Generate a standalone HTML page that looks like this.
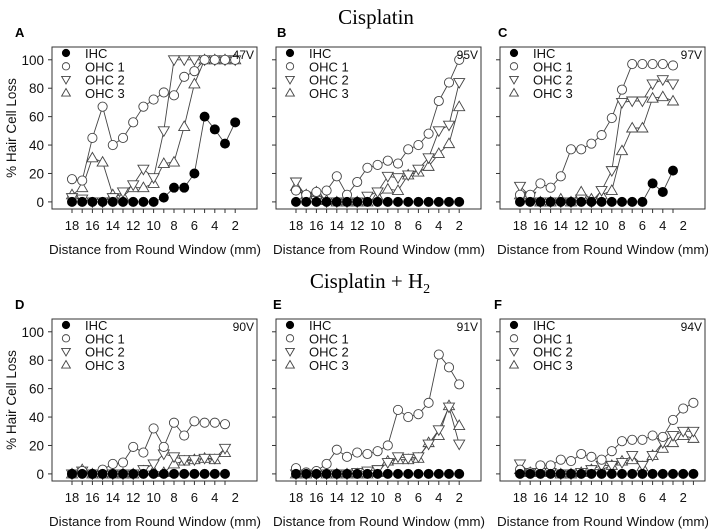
<!DOCTYPE html>
<html><head><meta charset="utf-8"><style>
body{margin:0;background:#fff;}
svg{display:block;font-family:"Liberation Sans",Arial,sans-serif;}
</style></head><body>
<svg id="chart" width="708" height="529"></svg>
<script>
const xs18to2 = [18,17,16,15,14,13,12,11,10,9,8,7,6,5,4,3,2];
const xs18to3 = [18,17,16,15,14,13,12,11,10,9,8,7,6,5,4,3];
const xs18to1 = [18,17,16,15,14,13,12,11,10,9,8,7,6,5,4,3,2,1];
const yTicks = [0,20,40,60,80,100];
const xTicks = [18,16,14,12,10,8,6,4,2];
const ihcA  = [0,0,0,0,0,0,0,0,0,3,10,10,20,60,51,41,56];
const ohc1A = [16,15,45,67,40,45,56,67,72,77,75,88,92,100,100,100,100];
const ohc2A = [3,2,0,0,3,7,12,23,17,50,100,100,100,100,100,100,100];
const ohc3A = [5,10,31,28,5,4,10,10,13,27,28,53,83,100,100,100,100];
const ihcB  = [0,0,0,0,0,0,0,0,0,0,0,0,0,0,0,0,0];
const ohc1B = [8,5,7,8,18,5,14,24,26,29,27,37,40,48,71,84,100];
const ohc2B = [14,4,1,0,0,0,0,4,7,18,17,19,23,31,50,54,84];
const ohc3B = [11,5,7,1,0,0,0,0,4,9,8,19,21,25,34,41,67];
const ihcC  = [0,0,0,0,0,0,0,0,0,0,0,0,0,13,7,22];
const ohc1C = [5,5,13,10,18,37,37,41,47,59,79,97,97,97,97,96];
const ohc2C = [11,4,0,0,0,0,2,0,8,22,70,71,71,83,86,83];
const ohc3C = [5,3,0,0,2,0,7,2,5,8,36,52,52,73,74,71];
const ihcD  = [0,0,0,0,0,0,0,0,0,0,0,0,0,0,0,0];
const ohc1D = [0,2,0,3,7,8,19,15,32,19,36,27,37,36,36,35];
const ohc2D = [0,2,0,0,0,0,0,3,7,14,12,10,10,11,11,18];
const ohc3D = [0,3,0,0,0,0,0,2,2,1,7,9,10,11,10,15];
const ihcE  = [0,0,0,0,0,0,0,0,0,0,0,0,0,0,0,0,0];
const ohc1E = [4,1,2,7,17,12,15,14,16,20,45,40,42,50,84,75,63];
const ohc2E = [0,0,0,0,0,0,1,2,3,8,12,11,12,21,31,47,21];
const ohc3E = [0,0,1,0,0,0,0,0,1,9,10,10,11,22,27,48,34];
const ihcF  = [0,0,0,0,0,0,0,0,0,0,0,0,0,0,0,0,0,0];
const ohc1F = [3,1,6,6,10,9,14,12,10,16,23,24,24,27,26,38,46,50];
const ohc2F = [7,1,1,1,0,0,1,3,6,6,8,13,6,13,22,27,30,30];
const ohc3F = [3,1,2,1,0,0,1,3,3,6,9,10,5,13,18,22,27,25];

const NS="http://www.w3.org/2000/svg";
const svg=document.getElementById('chart');
function mk(tag,attrs,parent){const e=document.createElementNS(NS,tag);for(const k in attrs)e.setAttribute(k,attrs[k]);(parent||svg).appendChild(e);return e;}
function txt(s,attrs,parent){const e=mk('text',attrs,parent);e.textContent=s;return e;}

const panels=[
 {id:'a',L:52,T:47,x:xs18to2,s:[ihcA,ohc1A,ohc2A,ohc3A],tag:'47V',labels:true,lx:15},
 {id:'b',L:276,T:47,x:xs18to2,s:[ihcB,ohc1B,ohc2B,ohc3B],tag:'95V',labels:false,lx:277},
 {id:'c',L:500,T:47,x:xs18to3,s:[ihcC,ohc1C,ohc2C,ohc3C],tag:'97V',labels:false,lx:498},
 {id:'d',L:52,T:319,x:xs18to3,s:[ihcD,ohc1D,ohc2D,ohc3D],tag:'90V',labels:true,lx:15},
 {id:'e',L:276,T:319,x:xs18to2,s:[ihcE,ohc1E,ohc2E,ohc3E],tag:'91V',labels:false,lx:273},
 {id:'f',L:500,T:319,x:xs18to1,s:[ihcF,ohc1F,ohc2F,ohc3F],tag:'94V',labels:false,lx:494}
];
const W=205,H=162,Y0=-5,Y1=109;

function marker(type,cx,cy,g,sc){
  sc=sc||1;
  let e;
  if(type===0){e=mk('circle',{cx:cx,cy:cy,r:4.5*sc,fill:'#000',stroke:'#000'},g);}
  else if(type===1){e=mk('circle',{cx:cx,cy:cy,r:4.6*sc,fill:'#fff',stroke:'#444','stroke-width':0.9},g);}
  else if(type===2){const a=5.5*sc,b=4*sc;e=mk('polygon',{points:`${cx-a},${cy-b} ${cx+a},${cy-b} ${cx},${cy+a}`,fill:'#fff',stroke:'#444','stroke-width':0.9},g);}
  else {const a=5.5*sc,b=4*sc;e=mk('polygon',{points:`${cx-a},${cy+b} ${cx+a},${cy+b} ${cx},${cy-a}`,fill:'#fff',stroke:'#444','stroke-width':0.9},g);}
  return e;
}
const letters=['A','B','C','D','E','F'];
const names=['IHC','OHC 1','OHC 2','OHC 3'];
panels.forEach((p,pi)=>{
  const g=mk('g',{});
  
  
  const xf=v=>p.L+20+(18-v)*10.2;
  const yf=v=>p.T+H-(v-Y0)/(Y1-Y0)*H;
  const lt=txt(letters[pi],{x:p.lx,y:p.T-10,'font-size':13,'font-weight':'bold'},g);
  
  
  const box=mk('rect',{x:p.L,y:p.T,width:W,height:H,fill:'none',stroke:'#333','stroke-width':1},g);
  
  
  yTicks.forEach(t=>{
    mk('line',{x1:p.L-4,x2:p.L,y1:yf(t),y2:yf(t),stroke:'#333'},g);
    if(p.labels){const tl=txt(String(t),{x:p.L-8,y:yf(t)+5,'font-size':13.5,'text-anchor':'end',fill:'#111'},g);
      
      }
  });
  p.x.forEach(v=>mk('line',{x1:xf(v),x2:xf(v),y1:p.T+H,y2:p.T+H+4,stroke:'#333'},g));
  xTicks.forEach(t=>{const tl=txt(String(t),{x:xf(t),y:p.T+H+21,'font-size':13,'text-anchor':'middle',fill:'#111'},g);
    
    });
  const xt=txt('Distance from Round Window (mm)',{x:p.L-3,y:p.T+H+45,'font-size':13,textLength:212,lengthAdjust:'spacingAndGlyphs',fill:'#111'},g);
  
  
  if(p.labels){const yt=txt('% Hair Cell Loss',{x:0,y:0,'font-size':13.5,'text-anchor':'middle',fill:'#111',transform:`translate(16,${p.T+H/2}) rotate(-90)`},g);
    
    }
  for(let si=3;si>=0;si--){
    const vals=p.s[si];
    const pts=p.x.map((v,i)=>xf(v)+','+yf(vals[i])).join(' ');
    const pl=mk('polyline',{points:pts,fill:'none',stroke:'#444','stroke-width':0.9},g);
    
    
  }
  for(let si=3;si>=0;si--){
    const vals=p.s[si];
    p.x.forEach((v,i)=>{const m=marker(si,xf(v),yf(vals[i]),g);
      
      });
  }
  names.forEach((n,k)=>{
    const cy=p.T+6+k*13.3;
    const m=marker(k,p.L+14,cy,g,0.8);
    
    
    const t=txt(n,{x:p.L+33,y:cy+5,'font-size':13,fill:'#111'},g);
    
    
  });
  const tg=txt(p.tag,{x:p.L+W-3,y:p.T+12,'font-size':12,'text-anchor':'end',fill:'#111'},g);
  
  
});
const t1=txt('Cisplatin',{x:376,y:24,'font-size':21,'text-anchor':'middle','font-family':'"Liberation Serif",serif'});


const t2=mk('text',{x:370,y:288,'font-size':21,'text-anchor':'middle','font-family':'"Liberation Serif",serif'});
t2.innerHTML='Cisplatin + H<tspan font-size="14" dy="5">2</tspan>';


</script>
</body></html>
